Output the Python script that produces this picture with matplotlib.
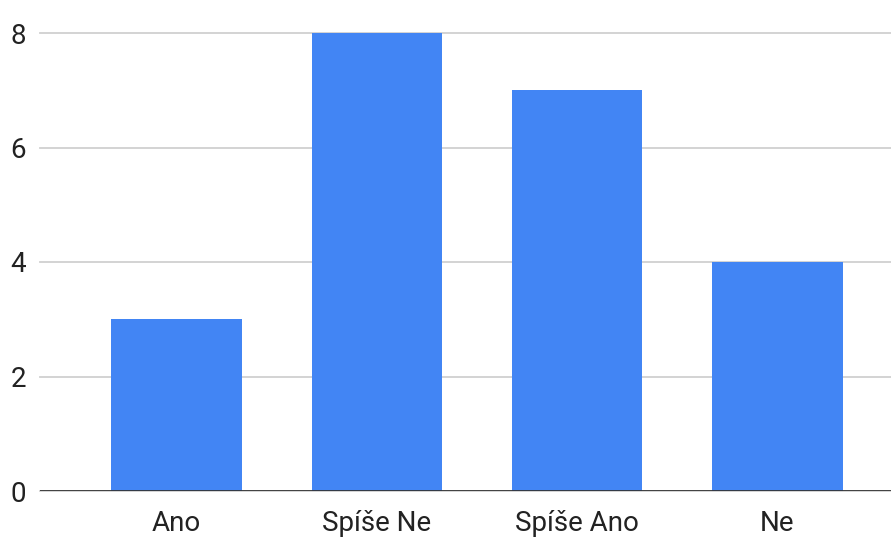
import numpy as np
import matplotlib.pyplot as plt

categories = ['Ano', 'Spíše Ne', 'Spíše Ano', 'Ne']
counts = [3, 8, 7, 4]
y_ticks = [0, 2, 4, 6, 8]

plt.rcParams['font.family'] = ['Roboto', 'DejaVu Sans']

fig = plt.figure(figsize=(8.91, 5.47), dpi=100)
ax = fig.add_axes([40 / 891, 1 - 491 / 547, 1 - 40 / 891, (491 - 33) / 547])

x = np.arange(len(categories))
ax.bar(x, counts, width=0.65, color='#4285f4', zorder=3)

ax.set_xlim(-0.681, 3.567)
ax.set_ylim(0, 8)
ax.set_yticks(y_ticks)
ax.set_xticks(x)
ax.set_xticklabels(categories)

ax.grid(axis='y', color='#d0d0d0', linewidth=1.3, zorder=0)
for gl in ax.get_ygridlines():
    gl.set_clip_on(False)
ax.axhline(0, color='#333333', linewidth=2, zorder=4)

for s in ax.spines.values():
    s.set_visible(False)
ax.tick_params(axis='both', length=0, labelsize=20, labelcolor='#222222')
ax.tick_params(axis='y', pad=10)
ax.tick_params(axis='x', pad=14)

fig.savefig('out.png', dpi=100)
